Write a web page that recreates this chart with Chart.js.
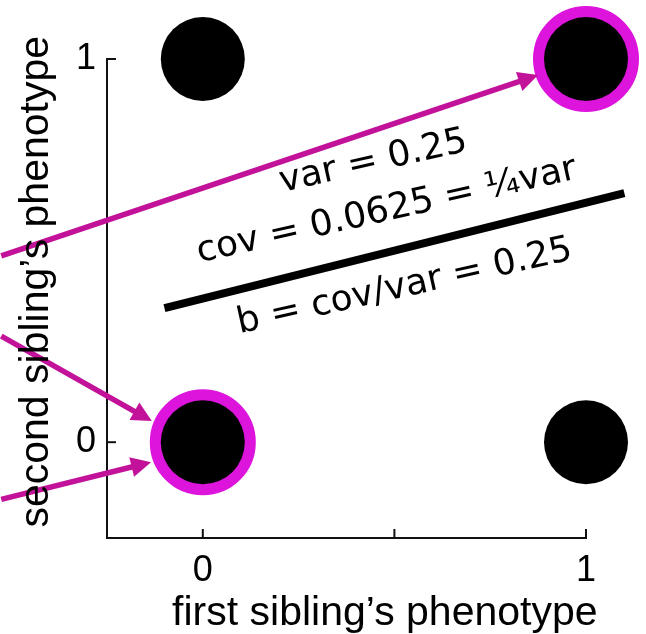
<!DOCTYPE html>
<html><head><meta charset="utf-8">
<script src="https://cdn.jsdelivr.net/npm/chart.js@4.4.1/dist/chart.umd.min.js"></script>
<style>html,body{margin:0;padding:0;background:#fff;}</style>
</head><body>
<canvas id="c" width="646" height="634"></canvas>
<script>
// ---- data ----
const firstSibling = [0, 0, 1, 1];
const secondSibling = [0, 1, 0, 1];
const highlightX = [0, 1];
const highlightY = [0, 1];
const fitX = [-0.1, 1.1];
const fitY = [0.35, 0.65];
const xTicks = [0, 0.5, 1];
const xTickLabels = ['0', '', '1'];
const yTicks = [0, 1];
const yTickLabels = ['0', '1'];
const arrowFromX = [-0.526, -0.526, -0.526];
const arrowFromY = [0.486, 0.277, -0.149];
const arrowToX = [0.875, -0.133, -0.135];
const arrowToY = [0.958, 0.055, -0.052];
const annotationLines = ['var = 0.25', 'cov = 0.0625 = \u00BCvar', 'b = cov/var = 0.25'];
const annotationX = [0.445, 0.48, 0.527];
const annotationY = [0.731, 0.603, 0.405];
const xTitle = 'first sibling\u2019s phenotype';
const yTitle = 'second sibling\u2019s phenotype';

const AXIS_FONT = 'Liberation Sans, Arial, sans-serif';
const NOTE_FONT = 'DejaVu Sans, sans-serif';
const ARROW_COLOR = '#c3129a';
const RING_COLOR = '#dc14dc';

const pts = (xs, ys) => xs.map((x, i) => ({x: x, y: ys[i]}));

const extras = {
  id: 'extras',
  afterDraw(chart) {
    const ctx = chart.ctx;
    const xs = chart.scales.x, ys = chart.scales.y;
    const ca = chart.chartArea;
    ctx.save();
    // inward tick marks
    ctx.strokeStyle = '#111';
    ctx.lineWidth = 2;
    xTicks.forEach(v => {
      const px = xs.getPixelForValue(v);
      ctx.beginPath(); ctx.moveTo(px, ca.bottom); ctx.lineTo(px, ca.bottom - 9); ctx.stroke();
    });
    yTicks.forEach(v => {
      const py = ys.getPixelForValue(v);
      ctx.beginPath(); ctx.moveTo(ca.left, py); ctx.lineTo(ca.left + 9, py); ctx.stroke();
    });
    // arrows
    ctx.strokeStyle = ARROW_COLOR; ctx.fillStyle = ARROW_COLOR; ctx.lineWidth = 5.5;
    for (let i = 0; i < arrowFromX.length; i++) {
      const x0 = xs.getPixelForValue(arrowFromX[i]), y0 = ys.getPixelForValue(arrowFromY[i]);
      const x1 = xs.getPixelForValue(arrowToX[i]), y1 = ys.getPixelForValue(arrowToY[i]);
      const a = Math.atan2(y1 - y0, x1 - x0);
      const hl = 20, hw = 10;
      const bx = x1 - hl * Math.cos(a), by = y1 - hl * Math.sin(a);
      ctx.beginPath(); ctx.moveTo(x0, y0); ctx.lineTo(bx + 2 * Math.cos(a), by + 2 * Math.sin(a)); ctx.stroke();
      ctx.beginPath();
      ctx.moveTo(x1, y1);
      ctx.lineTo(bx + hw * Math.sin(a), by - hw * Math.cos(a));
      ctx.lineTo(bx - hw * Math.sin(a), by + hw * Math.cos(a));
      ctx.closePath(); ctx.fill();
    }
    // annotations
    ctx.fillStyle = '#000';
    ctx.font = '36px ' + NOTE_FONT;
    ctx.textAlign = 'center'; ctx.textBaseline = 'middle';
    annotationLines.forEach((t, i) => {
      ctx.save();
      ctx.translate(xs.getPixelForValue(annotationX[i]), ys.getPixelForValue(annotationY[i]));
      ctx.rotate(-12.5 * Math.PI / 180);
      ctx.fillText(t, 0, 0);
      ctx.restore();
    });
    // axis titles
    ctx.font = '41px ' + AXIS_FONT;
    ctx.textAlign = 'center'; ctx.textBaseline = 'alphabetic';
    ctx.fillText(xTitle, ca.left + (ca.right - ca.left) * 0.58, chart.height - 9);
    ctx.save();
    ctx.translate(48, ca.top + (ca.bottom - ca.top) * 0.465);
    ctx.rotate(-Math.PI / 2);
    ctx.fillText(yTitle, 0, 0);
    ctx.restore();
    ctx.restore();
  }
};

new Chart(document.getElementById('c'), {
  type: 'scatter',
  data: {
    datasets: [
      {
        label: 'sibling pairs',
        data: pts(firstSibling, secondSibling),
        pointRadius: 42, pointHoverRadius: 42,
        backgroundColor: '#000', borderWidth: 0,
        clip: false
      },
      {
        label: 'highlighted pairs',
        data: pts(highlightX, highlightY),
        pointRadius: 47, pointHoverRadius: 47,
        backgroundColor: 'rgba(0,0,0,0)', borderColor: RING_COLOR, borderWidth: 12,
        clip: false
      },
      {
        type: 'line',
        label: 'regression',
        data: pts(fitX, fitY),
        borderColor: '#000', borderWidth: 8, pointRadius: 0,
        borderCapStyle: 'butt',
        showLine: true, fill: false,
        clip: false
      }
    ]
  },
  options: {
    responsive: false,
    animation: false,
    events: [],
    devicePixelRatio: 1,
    layout: {padding: {top: 57, right: 60, left: 0, bottom: 0}},
    plugins: {legend: {display: false}, tooltip: {enabled: false}, title: {display: false}},
    scales: {
      x: {
        type: 'linear', min: -0.25, max: 1,
        afterBuildTicks: s => { s.ticks = xTicks.map(v => ({value: v})); },
        afterFit: s => { s.height = 96; },
        ticks: {
          callback: (v) => { const i = xTicks.indexOf(v); return i >= 0 ? xTickLabels[i] : ''; },
          font: {family: AXIS_FONT, size: 36}, color: '#000', padding: 11, maxRotation: 0, autoSkip: false
        },
        grid: {display: true, drawOnChartArea: false, drawTicks: false},
        border: {display: true, color: '#111', width: 2}
      },
      y: {
        type: 'linear', min: -0.25, max: 1,
        afterBuildTicks: s => { s.ticks = yTicks.map(v => ({value: v})); },
        afterFit: s => { s.width = 107; },
        ticks: {
          callback: (v) => { const i = yTicks.indexOf(v); return i >= 0 ? yTickLabels[i] : ''; },
          font: {family: AXIS_FONT, size: 36}, color: '#000', padding: 11, autoSkip: false
        },
        grid: {display: true, drawOnChartArea: false, drawTicks: false},
        border: {display: true, color: '#111', width: 2}
      }
    }
  },
  plugins: [extras]
});
</script>
</body></html>
